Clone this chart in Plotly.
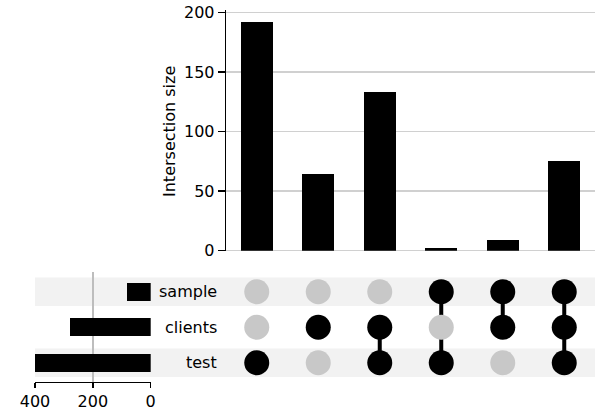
import plotly.graph_objects as go

# ---- data ----
set_names = ["test", "clients", "sample"]          # bottom -> top rows
set_totals = [400, 279, 83]
intersection_sizes = [192, 64, 133, 2, 9, 75]
in_test = [1, 0, 1, 1, 0, 1]
in_clients = [0, 1, 1, 0, 1, 1]
in_sample = [0, 0, 0, 1, 1, 1]
membership = [in_test, in_clients, in_sample]
bar_ticks = [0, 50, 100, 150, 200]
total_ticks = [0, 200, 400]

W, H = 597, 411
FONT = "DejaVu Sans"
def px(x):
    return x / W
def py(y):
    return 1 - y / H

n_cols = len(intersection_sizes)
cols = list(range(n_cols))

fig = go.Figure()

# intersection bars
fig.add_trace(go.Bar(x=cols, y=intersection_sizes, width=0.52,
                     marker=dict(color="black", line=dict(width=0)),
                     xaxis="x", yaxis="y", showlegend=False, hoverinfo="skip"))

# set totals bars
fig.add_trace(go.Bar(x=set_totals, y=list(range(len(set_names))), orientation="h",
                     width=0.5, marker=dict(color="black", line=dict(width=0)),
                     xaxis="x3", yaxis="y3", showlegend=False, hoverinfo="skip"))

# matrix connecting lines
lx, ly = [], []
for c in cols:
    active = [r for r in range(len(set_names)) if membership[r][c]]
    if len(active) > 1:
        lx += [c, c, None]
        ly += [min(active), max(active), None]
fig.add_trace(go.Scatter(x=lx, y=ly, mode="lines", line=dict(color="black", width=4),
                         xaxis="x2", yaxis="y2", showlegend=False, hoverinfo="skip"))

# matrix dots
dx, dy, dc = [], [], []
for r in range(len(set_names)):
    for c in cols:
        dx.append(c)
        dy.append(r)
        dc.append("black" if membership[r][c] else "#c8c8c8")
fig.add_trace(go.Scatter(x=dx, y=dy, mode="markers",
                         marker=dict(color=dc, size=25, line=dict(width=0)),
                         xaxis="x2", yaxis="y2", showlegend=False, hoverinfo="skip"))

# shading bands
shapes = []
for r in range(len(set_names)):
    if r % 2 == 0:
        shapes.append(dict(type="rect", xref="paper", yref="y2",
                           x0=px(35), x1=px(595), y0=r - 0.4, y1=r + 0.4,
                           fillcolor="#f2f2f2", line=dict(width=0), layer="below"))

# set labels
annotations = []
for r, name in enumerate(set_names):
    annotations.append(dict(text=name, xref="paper", yref="y2", x=px(219), y=r,
                            xanchor="right", yanchor="middle", showarrow=False,
                            font=dict(family=FONT, size=16, color="black")))
annotations.append(dict(text="Intersection size", xref="paper", yref="paper",
                        x=px(170), y=py(131), textangle=-90, showarrow=False,
                        xanchor="center", yanchor="middle",
                        font=dict(family=FONT, size=16, color="black")))

xdom = [px(226), px(595)]
fig.update_layout(
    width=W, height=H, margin=dict(l=0, r=0, t=0, b=0, autoexpand=False),
    template="none",
    paper_bgcolor="white", plot_bgcolor="rgba(0,0,0,0)",
    font=dict(family=FONT, size=16, color="black"),
    bargap=0, shapes=shapes, annotations=annotations,
    xaxis=dict(domain=xdom, range=[-0.5, n_cols - 0.5], visible=False, anchor="y",
               automargin=False),
    yaxis=dict(domain=[py(250.7), py(10.4)], range=[0, 201.6], anchor="x",
               automargin=False, ticklabeloverflow="allow",
               showline=True, linecolor="black", linewidth=1.3,
               ticks="outside", ticklen=7, tickwidth=1.3, tickcolor="black",
               tickvals=bar_ticks, showgrid=True, gridcolor="#d0d0d0", gridwidth=1.3,
               zeroline=True, zerolinecolor="#d0d0d0", zerolinewidth=1.3,
               tickfont=dict(size=16, family=FONT)),
    xaxis2=dict(domain=xdom, range=[-0.5, n_cols - 0.5], visible=False, anchor="y2",
                automargin=False),
    yaxis2=dict(domain=[py(380.5), py(274)], range=[-0.5, 2.5], visible=False, anchor="x2",
                automargin=False),
    xaxis3=dict(domain=[px(35), px(150.7)], range=[400, 0], anchor="y3",
                automargin=False, ticklabeloverflow="allow",
                showline=True, linecolor="black", linewidth=1.3,
                ticks="outside", ticklen=5, tickwidth=1.3, tickcolor="black",
                tickvals=total_ticks, showgrid=True, gridcolor="#bdbdbd", gridwidth=1.3,
                zeroline=False, tickfont=dict(size=16, family=FONT)),
    yaxis3=dict(domain=[py(381.7), py(272.3)], range=[-0.535, 2.547], visible=False,
                anchor="x3", automargin=False),
)

fig.write_html("out.html", config={"displayModeBar": False, "staticPlot": True},
               post_script="document.body.style.margin='0';document.body.style.padding='0';")
